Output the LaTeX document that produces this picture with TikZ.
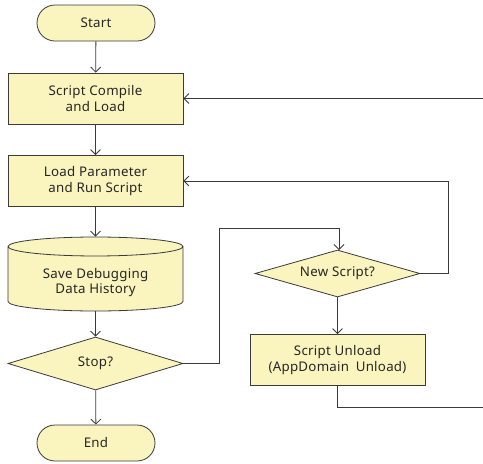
\documentclass[tikz,border=0pt]{standalone}
\usepackage{fontspec}
\setmainfont[LetterSpace=2]{Noto Sans}
\usetikzlibrary{arrows.meta,shapes.geometric,shapes.misc}
\definecolor{boxfill}{HTML}{FAF4BE}
\definecolor{linec}{HTML}{3A3A3A}
\begin{document}
\begin{tikzpicture}[x=1pt,y=-1pt,
  every node/.style={font=\fontsize{13.3}{15.5}\selectfont, text=black!85, align=center, inner sep=0pt},
  shp/.style={draw=linec, fill=boxfill, line width=0.8pt},
  term/.style={shp, rounded rectangle, minimum width=118pt, minimum height=36pt},
  procbox/.style={shp, rectangle, minimum width=175pt, minimum height=51pt},
  conn/.style={draw=linec, line width=0.8pt, -{Straight Barb[length=5pt,width=10pt]}}]
\useasboundingbox (0,0) rectangle (483,464);
\node[term] (start) at (96,23) {Start};
\node[procbox] (compile) at (95.5,98.5) {Script Compile\\and Load};
\node[procbox] (run) at (95.5,181) {Load Parameter\\and Run Script};
\node[shp, cylinder, shape border rotate=90, aspect=0.18, minimum width=175pt, minimum height=74pt, anchor=shape center] (save) at (95.5,274) {\raisebox{-8pt}[0pt][0pt]{\begin{tabular}{@{}c@{}}Save Debugging\\[-0.5pt]Data History\end{tabular}}};
\node[shp, diamond, minimum width=175pt, minimum height=53pt] (stop) at (95.5,363.5) {};
\node (stoptxt) at (stop) {Stop?};
\node[term] (endn) at (96,443) {End};
\node[shp, diamond, minimum width=165pt, minimum height=47pt] (newscript) at (337.5,273.5) {};
\node (newtxt) at (newscript) {New Script?};
\node[procbox] (unload) at (337.5,360) {Script Unload\\(AppDomain\enspace Unload)};
\draw[conn] (start) -- (compile);
\draw[conn] (compile) -- (run);
\draw[conn] (run) -- (save);
\draw[conn] (save) -- (stop);
\draw[conn] (stop) -- (endn);
\draw[conn] (stop.east) -- (219,363.5) -- (219,228) -- (339,228) -- (339,250);
\draw[conn] (newscript.east) -- (448,273.5) -- (448,181) -- (run.east);
\draw[conn] (newscript.south) -- (unload.north);
\draw[conn] (unload.south) -- (337.5,407) -- (490,407) -- (490,98.5) -- (compile.east);
\end{tikzpicture}
\end{document}
